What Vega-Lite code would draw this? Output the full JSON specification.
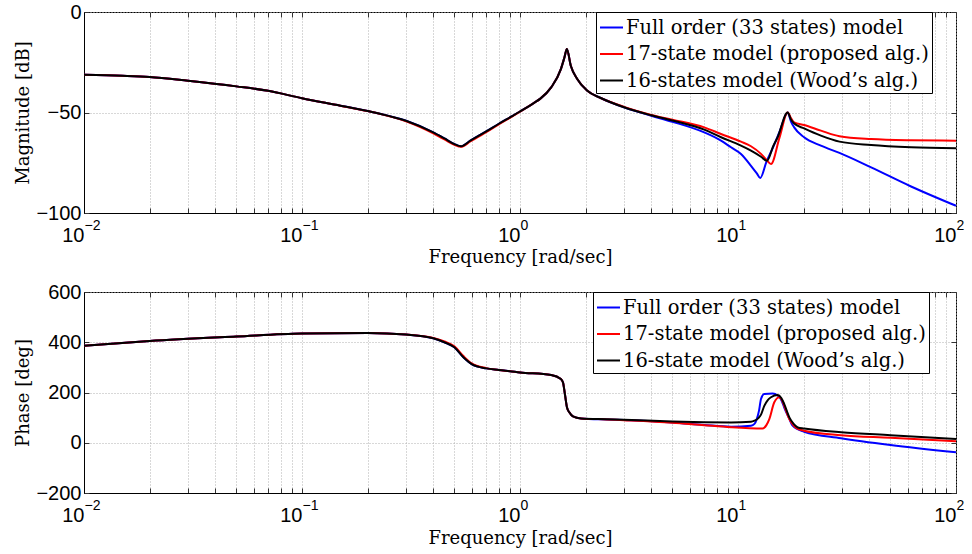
{
  "$schema": "https://vega.github.io/schema/vega-lite/v6.json",
  "padding": {"left": 13, "top": 1, "right": 2, "bottom": 4},
  "background": "white",
  "spacing": 79,
  "bounds": "flush",
  "datasets": {
    "mag": [
      {"f":0.01,"v":-31.2,"s":"a"},{"f":0.015,"v":-31.7,"s":"a"},{"f":0.02,"v":-32.3,"s":"a"},{"f":0.03,"v":-34.2,"s":"a"},{"f":0.05,"v":-37,"s":"a"},{"f":0.07,"v":-39.2,"s":"a"},{"f":0.1,"v":-42.9,"s":"a"},{"f":0.15,"v":-46.6,"s":"a"},{"f":0.2,"v":-49.3,"s":"a"},{"f":0.23,"v":-50.7,"s":"a"},{"f":0.3,"v":-54.1,"s":"a"},{"f":0.4,"v":-59.9,"s":"a"},{"f":0.45,"v":-62.9,"s":"a"},{"f":0.5,"v":-65.7,"s":"a"},{"f":0.536,"v":-66.8,"s":"a"},{"f":0.592,"v":-64,"s":"a"},{"f":0.7,"v":-59.4,"s":"a"},{"f":0.8,"v":-55.6,"s":"a"},{"f":0.91,"v":-52.1,"s":"a"},{"f":1.0,"v":-49.5,"s":"a"},{"f":1.16,"v":-45.2,"s":"a"},{"f":1.24,"v":-43.1,"s":"a"},{"f":1.39,"v":-37.5,"s":"a"},{"f":1.54,"v":-28.4,"s":"a"},{"f":1.6,"v":-22.5,"s":"a"},{"f":1.64,"v":-18.4,"s":"a"},{"f":1.71,"v":-26.7,"s":"a"},{"f":1.83,"v":-33.3,"s":"a"},{"f":2.03,"v":-39.1,"s":"a"},{"f":2.36,"v":-42.9,"s":"a"},{"f":3.0,"v":-47.4,"s":"a"},{"f":4,"v":-51.6,"s":"a"},
      {"f":5,"v":-54.6,"s":"a"},{"f":7,"v":-59.9,"s":"a"},{"f":8.36,"v":-64,"s":"a"},{"f":9.29,"v":-67.3,"s":"a"},{"f":10.32,"v":-70.6,"s":"a"},{"f":11.47,"v":-76.5,"s":"a"},{"f":12.2,"v":-80.3,"s":"a"},{"f":12.65,"v":-82.6,"s":"a"},{"f":13.5,"v":-74.6,"s":"a"},{"f":14.5,"v":-67.2,"s":"a"},{"f":15.5,"v":-59.7,"s":"a"},{"f":16.9,"v":-50,"s":"a"},{"f":17.5,"v":-54.5,"s":"a"},{"f":18.1,"v":-57.4,"s":"a"},{"f":20.1,"v":-62.3,"s":"a"},{"f":24,"v":-66.5,"s":"a"},{"f":29.2,"v":-70.1,"s":"a"},{"f":40.8,"v":-77.3,"s":"a"},{"f":62.2,"v":-86.8,"s":"a"},{"f":100,"v":-96.4,"s":"a"},
      {"f":0.01,"v":-31.2,"s":"b"},{"f":0.015,"v":-31.7,"s":"b"},{"f":0.02,"v":-32.3,"s":"b"},{"f":0.03,"v":-34.2,"s":"b"},{"f":0.05,"v":-37,"s":"b"},{"f":0.07,"v":-39.2,"s":"b"},{"f":0.1,"v":-42.9,"s":"b"},{"f":0.15,"v":-46.6,"s":"b"},{"f":0.2,"v":-49.3,"s":"b"},{"f":0.23,"v":-50.8,"s":"b"},{"f":0.3,"v":-54.4,"s":"b"},{"f":0.4,"v":-60.4,"s":"b"},{"f":0.45,"v":-63.4,"s":"b"},{"f":0.5,"v":-66.1,"s":"b"},{"f":0.536,"v":-67.1,"s":"b"},{"f":0.592,"v":-64.4,"s":"b"},{"f":0.7,"v":-59.8,"s":"b"},{"f":0.8,"v":-55.9,"s":"b"},{"f":0.91,"v":-52.3,"s":"b"},{"f":1.0,"v":-49.6,"s":"b"},{"f":1.16,"v":-45.2,"s":"b"},{"f":1.24,"v":-43.1,"s":"b"},{"f":1.39,"v":-37.5,"s":"b"},{"f":1.54,"v":-28.4,"s":"b"},{"f":1.6,"v":-22.5,"s":"b"},{"f":1.64,"v":-18.4,"s":"b"},{"f":1.71,"v":-26.7,"s":"b"},{"f":1.83,"v":-33.3,"s":"b"},{"f":2.03,"v":-39.1,"s":"b"},{"f":2.36,"v":-42.9,"s":"b"},{"f":3.0,"v":-47.2,"s":"b"},{"f":4,"v":-51.2,"s":"b"},
      {"f":5,"v":-53.6,"s":"b"},{"f":7,"v":-57.4,"s":"b"},{"f":8.36,"v":-60.7,"s":"b"},{"f":10.32,"v":-64.5,"s":"b"},{"f":11.47,"v":-66.8,"s":"b"},{"f":12.75,"v":-70.6,"s":"b"},{"f":13.5,"v":-73.5,"s":"b"},{"f":14.17,"v":-75.6,"s":"b"},{"f":15.5,"v":-62.5,"s":"b"},{"f":16.9,"v":-50,"s":"b"},{"f":17.5,"v":-52.8,"s":"b"},{"f":18.1,"v":-54.9,"s":"b"},{"f":20.1,"v":-56.2,"s":"b"},{"f":24,"v":-59,"s":"b"},{"f":29.2,"v":-61.8,"s":"b"},{"f":40.8,"v":-63.2,"s":"b"},{"f":62.2,"v":-63.8,"s":"b"},{"f":100,"v":-64,"s":"b"},
      {"f":0.01,"v":-31.2,"s":"c"},{"f":0.015,"v":-31.7,"s":"c"},{"f":0.02,"v":-32.3,"s":"c"},{"f":0.03,"v":-34.2,"s":"c"},{"f":0.05,"v":-37,"s":"c"},{"f":0.07,"v":-39.2,"s":"c"},{"f":0.1,"v":-42.9,"s":"c"},{"f":0.15,"v":-46.6,"s":"c"},{"f":0.2,"v":-49.3,"s":"c"},{"f":0.23,"v":-50.7,"s":"c"},{"f":0.3,"v":-54.1,"s":"c"},{"f":0.4,"v":-59.9,"s":"c"},{"f":0.45,"v":-62.9,"s":"c"},{"f":0.5,"v":-65.7,"s":"c"},{"f":0.536,"v":-66.8,"s":"c"},{"f":0.592,"v":-64,"s":"c"},{"f":0.7,"v":-59.4,"s":"c"},{"f":0.8,"v":-55.6,"s":"c"},{"f":0.91,"v":-52.1,"s":"c"},{"f":1.0,"v":-49.5,"s":"c"},{"f":1.16,"v":-45.2,"s":"c"},{"f":1.24,"v":-43.1,"s":"c"},{"f":1.39,"v":-37.5,"s":"c"},{"f":1.54,"v":-28.4,"s":"c"},{"f":1.6,"v":-22.5,"s":"c"},{"f":1.64,"v":-18.4,"s":"c"},{"f":1.71,"v":-26.7,"s":"c"},{"f":1.83,"v":-33.3,"s":"c"},{"f":2.03,"v":-39.1,"s":"c"},{"f":2.36,"v":-42.9,"s":"c"},{"f":3.0,"v":-47.4,"s":"c"},{"f":4,"v":-51.4,"s":"c"},
      {"f":5,"v":-54,"s":"c"},{"f":7,"v":-58.5,"s":"c"},{"f":8.36,"v":-62.3,"s":"c"},{"f":10.32,"v":-66.5,"s":"c"},{"f":11.47,"v":-69,"s":"c"},{"f":12.75,"v":-72,"s":"c"},{"f":13.58,"v":-74,"s":"c"},{"f":14.5,"v":-66.8,"s":"c"},{"f":15.2,"v":-62.3,"s":"c"},{"f":16.9,"v":-50,"s":"c"},{"f":17.5,"v":-53.5,"s":"c"},{"f":18.1,"v":-55.5,"s":"c"},{"f":20.1,"v":-57.9,"s":"c"},{"f":24,"v":-61.5,"s":"c"},{"f":29.2,"v":-64.5,"s":"c"},{"f":40.8,"v":-66.2,"s":"c"},{"f":62.2,"v":-67.3,"s":"c"},{"f":100,"v":-67.8,"s":"c"}
    ],
    "phase": [
      {"f":0.01,"v":386,"s":"a"},{"f":0.02,"v":405,"s":"a"},{"f":0.05,"v":423,"s":"a"},{"f":0.1,"v":435,"s":"a"},{"f":0.2,"v":437,"s":"a"},{"f":0.3,"v":431,"s":"a"},{"f":0.4,"v":416,"s":"a"},{"f":0.45,"v":400,"s":"a"},{"f":0.5,"v":380,"s":"a"},{"f":0.55,"v":340,"s":"a"},{"f":0.6,"v":313,"s":"a"},{"f":0.7,"v":296,"s":"a"},{"f":0.8,"v":290,"s":"a"},{"f":1.0,"v":280,"s":"a"},{"f":1.39,"v":270,"s":"a"},{"f":1.54,"v":254,"s":"a"},{"f":1.575,"v":240,"s":"a"},{"f":1.609,"v":190,"s":"a"},{"f":1.643,"v":140,"s":"a"},{"f":1.683,"v":121,"s":"a"},{"f":1.75,"v":105,"s":"a"},{"f":1.905,"v":97,"s":"a"},{"f":2.5,"v":93,"s":"a"},{"f":3,"v":91,"s":"a"},
      {"f":5,"v":81,"s":"a"},{"f":7,"v":71,"s":"a"},{"f":9.29,"v":64,"s":"a"},{"f":11.47,"v":68,"s":"a"},{"f":11.9,"v":75,"s":"a"},{"f":12.2,"v":95,"s":"a"},{"f":12.5,"v":130,"s":"a"},{"f":12.75,"v":174,"s":"a"},{"f":13.2,"v":194,"s":"a"},{"f":14.42,"v":196,"s":"a"},{"f":15.2,"v":188,"s":"a"},{"f":15.9,"v":165,"s":"a"},{"f":16.3,"v":140,"s":"a"},{"f":17.2,"v":95,"s":"a"},{"f":17.8,"v":68,"s":"a"},{"f":20.1,"v":44,"s":"a"},{"f":29.7,"v":18,"s":"a"},{"f":50,"v":-9,"s":"a"},{"f":100,"v":-38,"s":"a"},
      {"f":0.01,"v":386,"s":"b"},{"f":0.02,"v":405,"s":"b"},{"f":0.05,"v":423,"s":"b"},{"f":0.1,"v":435,"s":"b"},{"f":0.2,"v":437,"s":"b"},{"f":0.3,"v":431,"s":"b"},{"f":0.4,"v":417,"s":"b"},{"f":0.45,"v":403,"s":"b"},{"f":0.5,"v":384,"s":"b"},{"f":0.55,"v":345,"s":"b"},{"f":0.6,"v":316,"s":"b"},{"f":0.7,"v":297,"s":"b"},{"f":0.8,"v":290,"s":"b"},{"f":1.0,"v":280,"s":"b"},{"f":1.39,"v":270,"s":"b"},{"f":1.54,"v":254,"s":"b"},{"f":1.575,"v":240,"s":"b"},{"f":1.609,"v":190,"s":"b"},{"f":1.643,"v":140,"s":"b"},{"f":1.683,"v":121,"s":"b"},{"f":1.75,"v":105,"s":"b"},{"f":1.905,"v":97,"s":"b"},{"f":2.5,"v":93,"s":"b"},{"f":3,"v":90,"s":"b"},
      {"f":5,"v":80,"s":"b"},{"f":7,"v":70,"s":"b"},{"f":9.29,"v":62,"s":"b"},{"f":12.98,"v":57,"s":"b"},{"f":13.5,"v":70,"s":"b"},{"f":13.92,"v":94,"s":"b"},{"f":14.67,"v":161,"s":"b"},{"f":15.47,"v":181,"s":"b"},{"f":15.9,"v":170,"s":"b"},{"f":16.3,"v":147,"s":"b"},{"f":17.2,"v":94,"s":"b"},{"f":18.0,"v":68,"s":"b"},{"f":18.8,"v":55,"s":"b"},{"f":20.1,"v":48,"s":"b"},{"f":29.7,"v":30,"s":"b"},{"f":50,"v":20,"s":"b"},{"f":100,"v":6,"s":"b"},
      {"f":0.01,"v":386,"s":"c"},{"f":0.02,"v":405,"s":"c"},{"f":0.05,"v":423,"s":"c"},{"f":0.1,"v":435,"s":"c"},{"f":0.2,"v":437,"s":"c"},{"f":0.3,"v":431,"s":"c"},{"f":0.4,"v":416,"s":"c"},{"f":0.45,"v":400,"s":"c"},{"f":0.5,"v":380,"s":"c"},{"f":0.55,"v":340,"s":"c"},{"f":0.6,"v":313,"s":"c"},{"f":0.7,"v":296,"s":"c"},{"f":0.8,"v":290,"s":"c"},{"f":1.0,"v":280,"s":"c"},{"f":1.39,"v":270,"s":"c"},{"f":1.54,"v":254,"s":"c"},{"f":1.575,"v":240,"s":"c"},{"f":1.609,"v":190,"s":"c"},{"f":1.643,"v":140,"s":"c"},{"f":1.683,"v":121,"s":"c"},{"f":1.75,"v":105,"s":"c"},{"f":1.905,"v":97,"s":"c"},{"f":2.5,"v":94,"s":"c"},{"f":3,"v":92,"s":"c"},
      {"f":5,"v":85,"s":"c"},{"f":7,"v":82,"s":"c"},{"f":9.29,"v":81,"s":"c"},{"f":11.47,"v":84,"s":"c"},{"f":11.9,"v":88,"s":"c"},{"f":12.4,"v":98,"s":"c"},{"f":12.75,"v":112,"s":"c"},{"f":13.2,"v":147,"s":"c"},{"f":13.7,"v":170,"s":"c"},{"f":14.17,"v":181,"s":"c"},{"f":15.2,"v":190,"s":"c"},{"f":15.8,"v":178,"s":"c"},{"f":16.3,"v":154,"s":"c"},{"f":17.2,"v":101,"s":"c"},{"f":18.0,"v":75,"s":"c"},{"f":18.8,"v":61,"s":"c"},{"f":20.1,"v":57,"s":"c"},{"f":29.7,"v":42,"s":"c"},{"f":50,"v":30,"s":"c"},{"f":100,"v":15,"s":"c"}
    ]
  },
  "vconcat": [
    {
      "width": 872, "height": 201,
      "data": {"name": "mag"},
      "layer": [
        {
          "mark": {"type": "line", "strokeWidth": 2, "interpolate": "monotone"},
          "encoding": {
            "x": {"field": "f", "type": "quantitative",
              "scale": {"type": "log", "domain": [0.01, 100], "nice": false},
              "axis": {"orient": "bottom", "values": [0.01,0.02,0.03,0.04,0.05,0.06,0.07,0.08,0.09,0.1,0.2,0.3,0.4,0.5,0.6,0.7,0.8,0.9,1,2,3,4,5,6,7,8,9,10,20,30,40,50,60,70,80,90,100],
                "labelExpr": "indexof([0.01,0.1,1,10,100], datum.value) >= 0 ? '10' : ''",
                "labelAlign": "right", "labelDx": 4, "labelBaseline": "top", "labelPadding": 17.5,
                "tickSize": -5, "grid": true,
                "title": "Frequency [rad/sec]", "titleX": 436, "titleY": 49, "titleBaseline": "alphabetic", "titleAlign": "center"}},
            "y": {"field": "v", "type": "quantitative",
              "scale": {"domain": [-100, 0], "nice": false},
              "axis": {"values": [-100, -50, 0], "tickSize": -5, "labelPadding": 8, "grid": true,
                "title": "Magnitude [dB]", "titleX": -56, "titleY": 100.5, "titleBaseline": "alphabetic", "titleAlign": "center", "titleAngle": -90}},
            "color": {"field": "s", "type": "nominal",
              "scale": {"domain": ["a", "b", "c"], "range": ["#0000ff", "#ff0000", "#000000"]},
              "legend": {"orient": "none", "legendX": 512, "legendY": 0, "title": null,
                "labelExpr": "datum.value == 'a' ? 'Full order (33 states) model' : datum.value == 'b' ? '17-state model (proposed alg.)' : '16-states model (Wood’s alg.)'"}}
          }
        },
        {
          "mark": {"type": "line", "opacity": 0},
          "encoding": {
            "x": {"field": "f", "type": "quantitative",
              "axis": {"orient": "bottom", "values": [0.01, 0.1, 1, 10, 100],
                "labelExpr": "datum.value == 0.01 ? '−2' : datum.value == 0.1 ? '−1' : datum.value == 1 ? '0' : datum.value == 10 ? '1' : '2'",
                "labelAlign": "left", "labelDx": 4, "labelBaseline": "top", "labelPadding": 5, "labelFontSize": 14,
                "ticks": false, "domain": false, "grid": false, "title": null}},
            "y": {"field": "v", "type": "quantitative", "axis": null}
          }
        },
        {
          "mark": {"type": "line", "opacity": 0},
          "encoding": {
            "x": {"field": "f", "type": "quantitative",
              "axis": {"orient": "top", "values": [0.01,0.02,0.03,0.04,0.05,0.06,0.07,0.08,0.09,0.1,0.2,0.3,0.4,0.5,0.6,0.7,0.8,0.9,1,2,3,4,5,6,7,8,9,10,20,30,40,50,60,70,80,90,100],
                "labels": false, "tickSize": -5, "domain": false, "grid": false, "title": null}},
            "y": {"field": "v", "type": "quantitative",
              "axis": {"orient": "right", "values": [-100, -50, 0], "labels": false, "tickSize": -5, "domain": false, "grid": false, "title": null}}
          }
        }
      ],
      "resolve": {"axis": {"x": "independent", "y": "independent"}}
    },
    {
      "width": 872, "height": 201,
      "data": {"name": "phase"},
      "layer": [
        {
          "mark": {"type": "line", "strokeWidth": 2, "interpolate": "monotone"},
          "encoding": {
            "x": {"field": "f", "type": "quantitative",
              "scale": {"type": "log", "domain": [0.01, 100], "nice": false},
              "axis": {"orient": "bottom", "values": [0.01,0.02,0.03,0.04,0.05,0.06,0.07,0.08,0.09,0.1,0.2,0.3,0.4,0.5,0.6,0.7,0.8,0.9,1,2,3,4,5,6,7,8,9,10,20,30,40,50,60,70,80,90,100],
                "labelExpr": "indexof([0.01,0.1,1,10,100], datum.value) >= 0 ? '10' : ''",
                "labelAlign": "right", "labelDx": 4, "labelBaseline": "top", "labelPadding": 17.5,
                "tickSize": -5, "grid": true,
                "title": "Frequency [rad/sec]", "titleX": 436, "titleY": 50, "titleBaseline": "alphabetic", "titleAlign": "center"}},
            "y": {"field": "v", "type": "quantitative",
              "scale": {"domain": [-200, 600], "nice": false},
              "axis": {"values": [-200, 0, 200, 400, 600], "tickSize": -5, "labelPadding": 8, "grid": true,
                "title": "Phase [deg]", "titleX": -56, "titleY": 100.5, "titleBaseline": "alphabetic", "titleAlign": "center", "titleAngle": -90}},
            "color": {"field": "s", "type": "nominal",
              "scale": {"domain": ["a", "b", "c"], "range": ["#0000ff", "#ff0000", "#000000"]},
              "legend": {"orient": "none", "legendX": 509, "legendY": 0, "title": null,
                "labelExpr": "datum.value == 'a' ? 'Full order (33 states) model' : datum.value == 'b' ? '17-state model (proposed alg.)' : '16-state model (Wood’s alg.)'"}}
          }
        },
        {
          "mark": {"type": "line", "opacity": 0},
          "encoding": {
            "x": {"field": "f", "type": "quantitative",
              "axis": {"orient": "bottom", "values": [0.01, 0.1, 1, 10, 100],
                "labelExpr": "datum.value == 0.01 ? '−2' : datum.value == 0.1 ? '−1' : datum.value == 1 ? '0' : datum.value == 10 ? '1' : '2'",
                "labelAlign": "left", "labelDx": 4, "labelBaseline": "top", "labelPadding": 5, "labelFontSize": 14,
                "ticks": false, "domain": false, "grid": false, "title": null}},
            "y": {"field": "v", "type": "quantitative", "axis": null}
          }
        },
        {
          "mark": {"type": "line", "opacity": 0},
          "encoding": {
            "x": {"field": "f", "type": "quantitative",
              "axis": {"orient": "top", "values": [0.01,0.02,0.03,0.04,0.05,0.06,0.07,0.08,0.09,0.1,0.2,0.3,0.4,0.5,0.6,0.7,0.8,0.9,1,2,3,4,5,6,7,8,9,10,20,30,40,50,60,70,80,90,100],
                "labels": false, "tickSize": -5, "domain": false, "grid": false, "title": null}},
            "y": {"field": "v", "type": "quantitative",
              "axis": {"orient": "right", "values": [-200, 0, 200, 400, 600], "labels": false, "tickSize": -5, "domain": false, "grid": false, "title": null}}
          }
        }
      ],
      "resolve": {"axis": {"x": "independent", "y": "independent"}}
    }
  ],
  "resolve": {"scale": {"color": "independent"}, "legend": {"color": "independent"}},
  "config": {
    "view": {"stroke": "black", "strokeWidth": 1},
    "axis": {
      "labelFont": "Liberation Sans", "labelFontSize": 20, "labelColor": "black",
      "titleFont": "DejaVu Serif", "titleFontSize": 18, "titleFontWeight": "normal", "titleColor": "black",
      "domainColor": "black", "tickColor": "#333333", "gridColor": "#b0b0b0", "gridDash": [1, 2], "gridOpacity": 1,
      "labelFlush": false, "labelOverlap": false
    },
    "legend": {
      "strokeColor": "black", "fillColor": "white", "padding": 3, "strokeWidth": 1,
      "symbolType": "stroke", "symbolStrokeWidth": 2, "symbolSize": 529,
      "labelFont": "DejaVu Serif", "labelFontSize": 19.5, "labelColor": "black", "labelLimit": 500,
      "rowPadding": 4.5, "labelOffset": 2
    }
  }
}
